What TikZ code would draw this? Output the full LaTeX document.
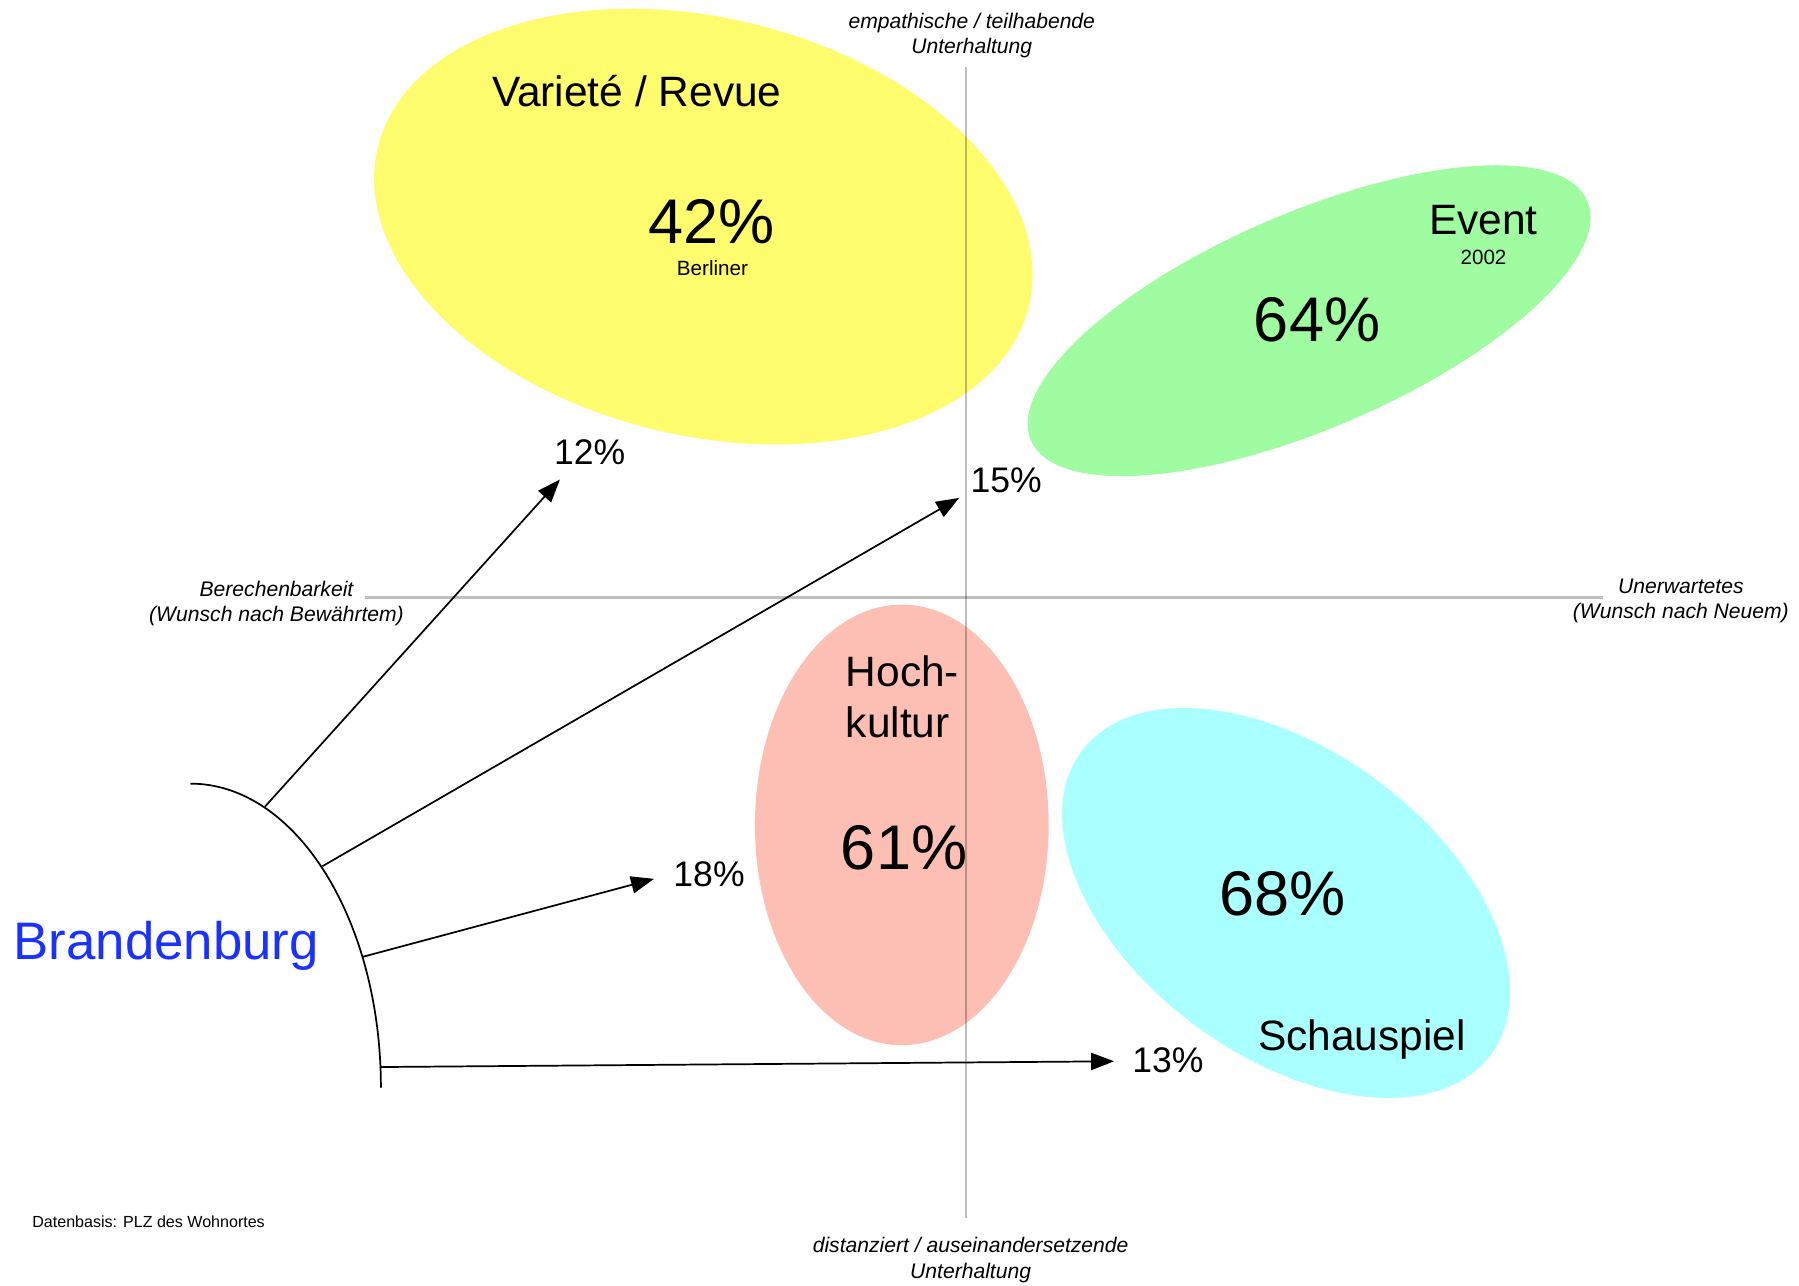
\documentclass[tikz,border=0pt]{standalone}
\usepackage{fontspec}
\setmainfont{Liberation Sans}
\usetikzlibrary{shapes.geometric,arrows.meta}
\definecolor{cyel}{RGB}{255,252,110}
\definecolor{cgreen}{RGB}{160,252,160}
\definecolor{cpink}{RGB}{253,190,180}
\definecolor{ccyan}{RGB}{170,255,255}
\definecolor{cblue}{RGB}{25,50,255}
\newcommand{\fs}[2]{\fontsize{#1pt}{#2pt}\selectfont}
\begin{document}
\begin{tikzpicture}[x=1pt,y=-1pt,
  blob/.style={ellipse,draw=none,inner sep=0pt},
  axisline/.style={draw=black,draw opacity=0.25,line width=2.5pt},
  conn/.style={line width=1.5pt,-{Triangle[length=20pt,width=15pt]}},
  bigpct/.style={anchor=base,font=\fs{55}{60}},
  catlabel/.style={anchor=base,font=\fs{37}{45}},
  smallpct/.style={anchor=base,font=\fs{31}{36}},
  tiny/.style={anchor=base,font=\fs{18}{22}},
  axlabel/.style={align=center,font=\itshape\fs{18.4}{22}}]
\useasboundingbox[fill=white] (0,0) rectangle (1568,1120);
% ellipses
\node[blob,fill=cyel,minimum width=584pt,minimum height=364pt,rotate=-13.7] (yel) at (613,197.5) {};
\node[blob,fill=cgreen,minimum width=528pt,minimum height=188pt,rotate=23.3] (grn) at (1141,279.5) {};
\node[blob,fill=cpink,minimum width=256pt,minimum height=384pt] (pnk) at (786,719) {};
\node[blob,fill=ccyan,minimum width=444pt,minimum height=266pt,rotate=-36.5] (cyn) at (1121,787) {};
% axes
\coordinate (vt) at (842,58);
\coordinate (vb) at (842,1062);
\coordinate (hl) at (318,521);
\coordinate (hr) at (1397,521);
\draw[axisline] (vt) -- (vb);
\draw[axisline] (hl) -- (hr);
% axis labels (base = baseline of last line)
\node[axlabel,anchor=base] (lt) at (847,47) {empathische / teilhabende\\Unterhaltung};
\node[axlabel,anchor=base] (lb) at (846,1114) {distanziert / auseinandersetzende\\Unterhaltung};
\node[axlabel,anchor=base] (ll) at (241,542) {Berechenbarkeit\\(Wunsch nach Bewährtem)};
\node[axlabel,anchor=base] (lr) at (1465,539) {Unerwartetes\\(Wunsch nach Neuem)};
% texts in ellipses
\node[catlabel] (tvar) at (555,93) {Varieté / Revue};
\node[bigpct] (p42) at (620,212) {42\%};
\node[tiny] (tber) at (621,240) {Berliner};
\node[catlabel] (tev) at (1293,204) {Event};
\node[tiny] (t02) at (1293,230.5) {2002};
\node[bigpct] (p64) at (1148,298) {64\%};
\node[catlabel,anchor=base west,inner sep=0pt] (thoch) at (737,598) {Hoch-};
\node[catlabel,anchor=base west,inner sep=0pt] (tkul) at (737,643) {kultur};
\node[bigpct] (p61) at (788,758) {61\%};
\node[bigpct] (p68) at (1118,798) {68\%};
\node[catlabel] (tsch) at (1187,916) {Schauspiel};
% Brandenburg
\node[anchor=base,font=\fs{46}{50},text=cblue] (bb) at (145,836) {Brandenburg};
\draw[line width=1.5pt] (166,683) .. controls (257.7,683) and (332,801.6) .. (332,948);
% arrows
\coordinate (s1) at (231,703);
\coordinate (s2) at (281,755);
\coordinate (s3) at (316,834);
\coordinate (s4) at (332,930);
\coordinate (e1) at (488,418);
\coordinate (e2) at (836,434);
\coordinate (e3) at (570,766);
\coordinate (e4) at (971,925);
\draw[conn] (s1) -- (e1);
\draw[conn] (s2) -- (e2);
\draw[conn] (s3) -- (e3);
\draw[conn] (s4) -- (e4);
\node[smallpct] (q12) at (514,405) {12\%};
\node[smallpct] (q15) at (877,429) {15\%};
\node[smallpct] (q18) at (618,773) {18\%};
\node[smallpct] (q13) at (1018,935) {13\%};
% footnote
\node[anchor=base west,inner sep=0pt,font=\fs{14}{16}] (foot) at (28,1070) {Datenbasis: PLZ des Wohnortes};
\end{tikzpicture}
\end{document}
